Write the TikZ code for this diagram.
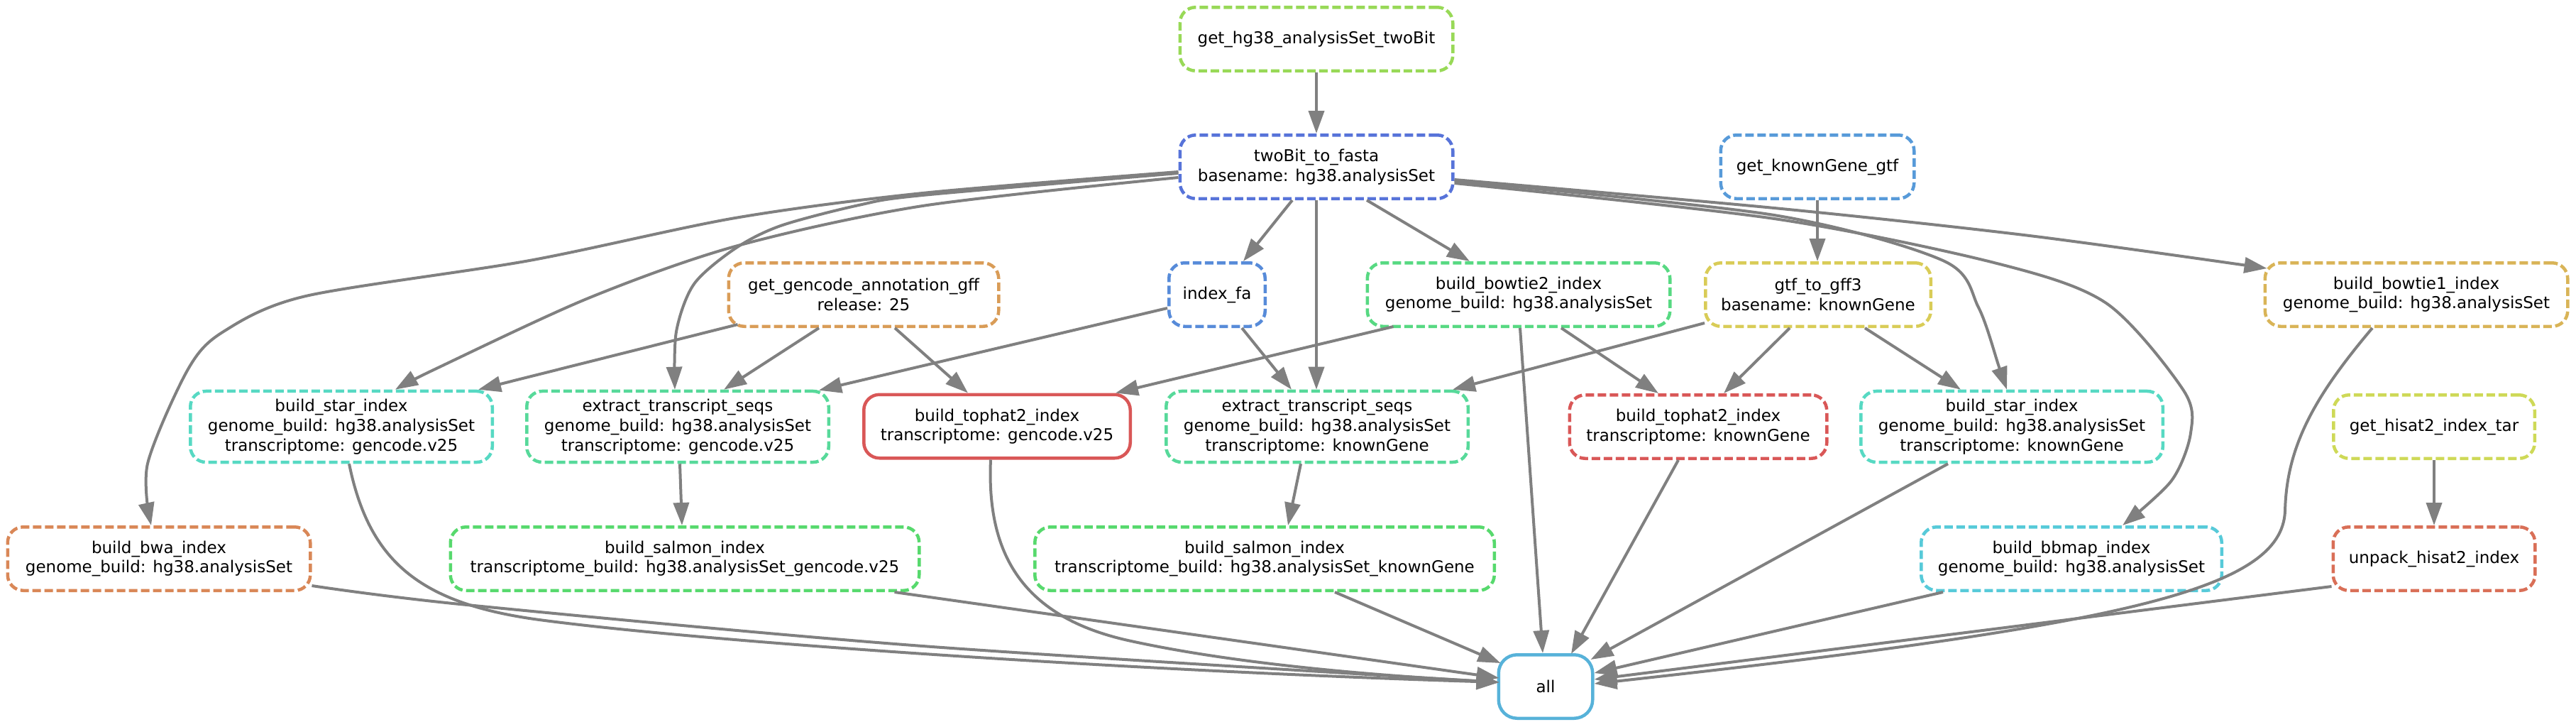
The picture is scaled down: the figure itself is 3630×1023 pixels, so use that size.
\documentclass[tikz,border=0pt]{standalone}
\usepackage{fontspec}
\setmainfont{DejaVu Sans}
\usetikzlibrary{arrows.meta,calc}
\definecolor{edgegray}{HTML}{808080}
\definecolor{cHG}{HTML}{98D957}
\definecolor{cTF}{HTML}{5773D9}
\definecolor{cIF}{HTML}{578BD9}
\definecolor{cKG}{HTML}{579AD9}
\definecolor{cGC}{HTML}{D99C57}
\definecolor{cBT2}{HTML}{57D982}
\definecolor{cGFF}{HTML}{D9CC57}
\definecolor{cBT1}{HTML}{D9B457}
\definecolor{cSTAR}{HTML}{57D9C3}
\definecolor{cEXT}{HTML}{57D99A}
\definecolor{cTOP}{HTML}{D95757}
\definecolor{cHT}{HTML}{CED957}
\definecolor{cBWA}{HTML}{D98757}
\definecolor{cSAL}{HTML}{57D96D}
\definecolor{cBB}{HTML}{57CAD9}
\definecolor{cUN}{HTML}{D96F57}
\definecolor{cALL}{HTML}{57B2D9}
\tikzset{
  job/.style={draw, rectangle, rounded corners=11pt, line width=2.25pt,
    dash pattern=on 6pt off 2.5pt, align=center, minimum height=44.75pt,
    inner xsep=0pt, inner ysep=5.6pt, fill=white,
    font=\fontsize{11.5pt}{13.85pt}\selectfont},
  solidjob/.style={job, solid},
  conn/.style={draw=edgegray, line width=2pt, line cap=butt,
    -{Triangle[length=16pt,width=11pt]}},
}
\begin{document}
\begin{tikzpicture}[x=0.5pt, y=-0.5pt]
\useasboundingbox (0,0) rectangle (3630,1023);
% nodes
\node[job, draw=cHG, minimum width=192.25pt] (hg38) at (1855,55) {get\_hg38\_analysisSet\_twoBit};
\node[job, draw=cTF, minimum width=192.25pt] (tf) at (1855,235) {twoBit\_to\_fasta\\basename: hg38.analysisSet};
\node[job, draw=cKG, minimum width=136.25pt] (kgtf) at (2561,235) {get\_knownGene\_gtf};
\node[job, draw=cGC, minimum width=190.25pt] (gencode) at (1217,415) {get\_gencode\_annotation\_gff\\release: 25};
\node[job, draw=cIF, minimum width=67.75pt] (indexfa) at (1715,415) {index\_fa};
\node[job, draw=cBT2, minimum width=213.25pt] (bowtie2) at (2140,415) {build\_bowtie2\_index\\genome\_build: hg38.analysisSet};
\node[job, draw=cGFF, minimum width=158.75pt] (gff3) at (2562,415) {gtf\_to\_gff3\\basename: knownGene};
\node[job, draw=cBT1, minimum width=213.25pt] (bowtie1) at (3405,415) {build\_bowtie1\_index\\genome\_build: hg38.analysisSet};
\node[job, draw=cSTAR, minimum width=212.75pt] (starG) at (481,601) {build\_star\_index\\genome\_build: hg38.analysisSet\\transcriptome: gencode.v25};
\node[job, draw=cEXT, minimum width=212.75pt] (extractG) at (955,601) {extract\_transcript\_seqs\\genome\_build: hg38.analysisSet\\transcriptome: gencode.v25};
\node[solidjob, draw=cTOP, minimum width=187.75pt] (tophatG) at (1405,600.5) {build\_tophat2\_index\\transcriptome: gencode.v25};
\node[job, draw=cEXT, minimum width=212.75pt] (extractK) at (1856,601) {extract\_transcript\_seqs\\genome\_build: hg38.analysisSet\\transcriptome: knownGene};
\node[job, draw=cTOP, minimum width=181.25pt] (tophatK) at (2393,601) {build\_tophat2\_index\\transcriptome: knownGene};
\node[job, draw=cSTAR, minimum width=212.75pt] (starK) at (2835,601) {build\_star\_index\\genome\_build: hg38.analysisSet\\transcriptome: knownGene};
\node[job, draw=cHT, minimum width=141.75pt] (hisattar) at (3430,601) {get\_hisat2\_index\_tar};
\node[job, draw=cBWA, minimum width=213.25pt] (bwa) at (224,787) {build\_bwa\_index\\genome\_build: hg38.analysisSet};
\node[job, draw=cSAL, minimum width=330.25pt] (salmonG) at (965,787) {build\_salmon\_index\\transcriptome\_build: hg38.analysisSet\_gencode.v25};
\node[job, draw=cSAL, minimum width=323.75pt] (salmonK) at (1782,787) {build\_salmon\_index\\transcriptome\_build: hg38.analysisSet\_knownGene};
\node[job, draw=cBB, minimum width=211.75pt] (bbmap) at (2919,787) {build\_bbmap\_index\\genome\_build: hg38.analysisSet};
\node[job, draw=cUN, minimum width=142.25pt] (unpack) at (3430,787) {unpack\_hisat2\_index};
\node[solidjob, draw=cALL, minimum width=66.25pt, rounded corners=13pt] (all) at (2178,967) {all};
% coordinates for curved connectors
\coordinate (sBwa) at ($(tf.west)+(0,7)$);
\coordinate (eBwa) at ($(bwa.north)+(-11,0)$);
\coordinate (sExG) at ($(tf.west)+(0,9)$);
\coordinate (eExG) at ($(extractG.north)+(-4,0)$);
\coordinate (sStG) at ($(tf.west)+(0,15)$);
\coordinate (eStG) at ($(starG.north)+(76,0)$);
\coordinate (sBt1) at ($(tf.east)+(0,18)$);
\coordinate (eBt1) at ($(bowtie1.north west)+(5,10)$);
\coordinate (sStK) at ($(tf.east)+(0,20)$);
\coordinate (eStK) at ($(starK.north)+(-7,0)$);
\coordinate (sBb) at ($(tf.east)+(0,23)$);
\coordinate (eBb) at ($(bbmap.north)+(72,0)$);
\coordinate (sB1A) at ($(bowtie1.south)+(-62,0)$);
\coordinate (eB1A) at ($(all.east)+(0,-4)$);
\coordinate (sSGA) at ($(starG.south)+(11,0)$);
\coordinate (eLeft) at ($(all.west)+(3,-6)$);
\coordinate (sBwA) at ($(bwa.east)+(0,38)$);
\coordinate (sTGA) at ($(tophatG.south)+(-9,0)$);
% straight connectors
\draw[conn] (hg38.south) -- (tf.north);
\draw[conn] ($(tf.south)+(-34,0)$) -- ($(indexfa.north)+(37,0)$);
\draw[conn] (tf.south) -- ($(extractK.north)+(-1,0)$);
\draw[conn] ($(tf.south)+(71,0)$) -- ($(bowtie2.north)+(-69,0)$);
\draw[conn] (kgtf.south) -- ($(gff3.north)+(-1,0)$);
\draw[conn] ($(gencode.south west)+(15,-5)$) -- ($(starG.north east)+(-22,0)$);
\draw[conn] ($(gencode.south)+(-63,0)$) -- ($(extractG.north)+(65,0)$);
\draw[conn] ($(gencode.south)+(44,0)$) -- ($(tophatG.north)+(-41,0)$);
\draw[conn] ($(indexfa.west)+(0,19)$) -- ($(extractG.north east)+(-16,1)$);
\draw[conn] ($(indexfa.south)+(35,0)$) -- ($(extractK.north)+(-36,0)$);
\draw[conn] ($(bowtie2.south west)+(39,-2)$) -- ($(tophatG.north east)+(-23,0)$);
\draw[conn] ($(bowtie2.south)+(60,0)$) -- ($(tophatK.north)+(-56,0)$);
\draw[conn] ($(bowtie2.south)+(2,0)$) -- ($(all.north)+(-4,0)$);
\draw[conn] ($(gff3.south west)+(1,-7)$) -- ($(extractK.north east)+(-24,0)$);
\draw[conn] ($(gff3.south)+(-40,0)$) -- ($(tophatK.north)+(36,0)$);
\draw[conn] ($(gff3.south)+(66,0)$) -- ($(starK.north)+(-72,0)$);
\draw[conn] ($(tophatK.south)+(-28,0)$) -- ($(all.north)+(36,1)$);
\draw[conn] ($(starK.south west)+(125,0)$) -- ($(all.north east)+(-5,9)$);
\draw[conn] ($(bbmap.south west)+(33,0)$) -- ($(all.east)+(0,-19)$);
\draw[conn] ($(unpack.south west)+(0,-8)$) -- ($(all.east)+(0,-10)$);
\draw[conn] (hisattar.south) -- (unpack.north);
\draw[conn] ($(extractK.south)+(-23,0)$) -- ($(salmonK.north)+(33,0)$);
\draw[conn] ($(salmonK.south)+(99,0)$) -- ($(all.north west)+(5,14)$);
\draw[conn] ($(extractG.south)+(3,0)$) -- ($(salmonG.north)+(-4,0)$);
\draw[conn] ($(salmonG.south east)+(-37,0)$) -- ($(all.west)+(3,-12)$);
% curved connectors
\draw[conn] plot[smooth, tension=0.5] coordinates {(sBwa) (1300,272) (1036,307) (746,367) (431,417) (315,467) (265,520) (208,653) (eBwa)};
\draw[conn] plot[smooth, tension=0.5] coordinates {(sExG) (1300,275) (1210,289) (1100,318) (1036,350) (978,400) (953,467) (eExG)};
\draw[conn] plot[smooth, tension=0.5] coordinates {(sStG) (1300,290) (1036,347) (829,420) (613,520) (eStG)};
\draw[conn] plot[smooth, tension=0.5] coordinates {(sBt1) (2500,293) (2860,332) (eBt1)};
\draw[conn] plot[smooth, tension=0.5] coordinates {(sStK) (2500,303) (2738,367) (2788,433) (2817,517) (eStK)};
\draw[conn] plot[smooth, tension=0.5] coordinates {(sBb) (2500,308) (2810,370) (2968,427) (3077,550) (3087,610) (3060,677) (eBb)};
\draw[conn] (sB1A) .. controls (3260,560) and (3222,630) .. (3220,720)
  .. controls (3215,830) and (3000,880) .. (eB1A);
\draw[conn] (sSGA) .. controls (520,790) and (590,850) .. (760,873)
  .. controls (1000,905) and (1600,945) .. (eLeft);
\draw[conn] plot[smooth, tension=0.5] coordinates {(sBwA) (658,852) (1300,910) (eLeft)};
\draw[conn] (sTGA) .. controls (1390,780) and (1440,870) .. (1594,903)
  .. controls (1750,937) and (1950,952) .. (eLeft);
\end{tikzpicture}
\end{document}
